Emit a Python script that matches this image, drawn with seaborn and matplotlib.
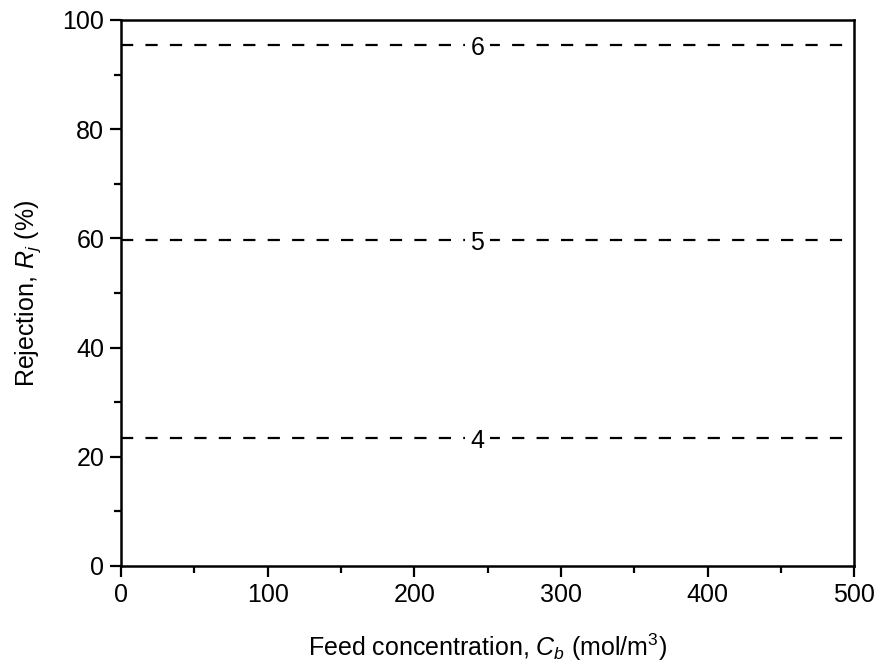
import matplotlib
matplotlib.use("Agg")
import matplotlib.pyplot as plt
import seaborn as sns
import pandas as pd
from matplotlib.ticker import MultipleLocator

# Rejection of each ion number vs feed concentration (constant over C_b)
feed_conc = [0, 500]
curve_ids = ["4", "5", "6"]
rejection_4 = [23.4, 23.4]
rejection_5 = [59.7, 59.7]
rejection_6 = [95.4, 95.4]
label_x = 243

sns.set_theme(style="ticks")
plt.rcParams["font.family"] = ["Liberation Sans", "DejaVu Sans"]
plt.rcParams["mathtext.fontset"] = "custom"
plt.rcParams["mathtext.rm"] = "Liberation Sans"
plt.rcParams["mathtext.it"] = "Liberation Sans:italic"
plt.rcParams["text.color"] = "black"

df = pd.DataFrame({
    "C": feed_conc * 3,
    "R": rejection_4 + rejection_5 + rejection_6,
    "curve": [c for c in curve_ids for _ in feed_conc],
})

fig = plt.figure(figsize=(8.77, 6.64), dpi=100)
ax = fig.add_axes([0.138, 0.1476, 0.836, 0.8224])

sns.lineplot(data=df, x="C", y="R", hue="curve", palette=["black"] * 3,
             legend=False, ax=ax, lw=1.6)
for line in ax.get_lines():
    line.set_dashes((5.5, 5.5))

for cid, vals in zip(curve_ids, [rejection_4, rejection_5, rejection_6]):
    ax.text(label_x, vals[0] - 0.6, cid, ha="center", va="center", fontsize=18,
            color="black",
            bbox=dict(facecolor="white", edgecolor="none", pad=4.0))

ax.set_xlim(0, 500)
ax.set_ylim(0, 100)
ax.xaxis.set_major_locator(MultipleLocator(100))
ax.xaxis.set_minor_locator(MultipleLocator(50))
ax.yaxis.set_major_locator(MultipleLocator(20))
ax.yaxis.set_minor_locator(MultipleLocator(10))
ax.tick_params(which="major", direction="out", length=8, width=1.6,
               labelsize=18, color="black", labelcolor="black", pad=4)
ax.tick_params(which="minor", direction="out", length=5, width=1.6,
               color="black")
for s in ax.spines.values():
    s.set_linewidth(1.8)
    s.set_color("black")

ax.set_xlabel(r"Feed concentration, $\mathit{C_b}$ (mol/m$^3$)", fontsize=18,
              labelpad=18, color="black")
ax.set_ylabel(r"Rejection, $\mathit{R_j}$ (%)", fontsize=18, labelpad=14,
              color="black")

fig.savefig("out.png", dpi=100)
